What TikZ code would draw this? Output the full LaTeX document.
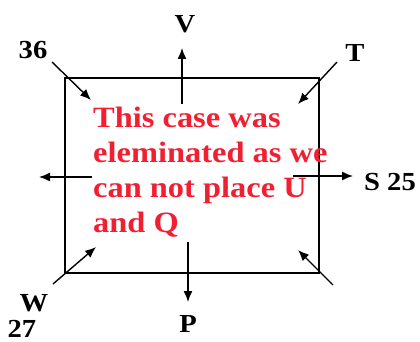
\documentclass[tikz,border=0pt]{standalone}
\usepackage{fontspec}
\usetikzlibrary{arrows.meta}
\newfontfamily\btimes[FakeStretch=1.1]{Liberation Serif}
\definecolor{casered}{RGB}{240,32,50}
\tikzset{
  lbl/.style={font=\btimes\bfseries\fontsize{26}{28}\selectfont, inner sep=0pt, text=black},
  arr/.style={line width=1.4pt, -{Latex[length=11pt,width=9pt]}},
  boxline/.style={line width=1.6pt}
}
\begin{document}
\begin{tikzpicture}[x=1pt,y=-1pt]
\useasboundingbox (0,0) rectangle (420,342);
\node[draw, boxline, minimum width=254pt, minimum height=195pt, inner sep=0pt, anchor=north west] (box) at (64,77) {};
\node[anchor=north west, inner sep=0pt, align=left, text=casered,
  font=\btimes\bfseries\fontsize{29.5}{35}\selectfont] (txt) at (93,107)
  {This case was\\eleminated as we\\can not place U\\and Q};
% labels
\node[lbl] (l36) at (33,50) {36};
\node[lbl] (lV) at (185,24) {V};
\node[lbl] (lT) at (355,53) {T};
\node[lbl] (lS) at (390,182) {S 25};
\node[lbl] (lW) at (34,303) {W};
\node[lbl] (l27) at (22,329) {27};
\node[lbl] (lP) at (188,324) {P};
% arrow end points
\coordinate (a1s) at (52,62);  \coordinate (a1e) at (91,100);
\coordinate (a2s) at (182,104); \coordinate (a2e) at (182,48);
\coordinate (a3s) at (337,62); \coordinate (a3e) at (298,104);
\coordinate (a4s) at (92,177); \coordinate (a4e) at (39,177);
\coordinate (a5s) at (293,176); \coordinate (a5e) at (353,176);
\coordinate (a6s) at (53,284); \coordinate (a6e) at (96,247);
\coordinate (a7s) at (188,242); \coordinate (a7e) at (188,302);
\coordinate (a8s) at (333,285); \coordinate (a8e) at (298,250);
\draw[arr] (a1s) -- (a1e);
\draw[arr] (a2s) -- (a2e);
\draw[arr] (a3s) -- (a3e);
\draw[arr] (a4s) -- (a4e);
\draw[arr] (a5s) -- (a5e);
\draw[arr] (a6s) -- (a6e);
\draw[arr] (a7s) -- (a7e);
\draw[arr] (a8s) -- (a8e);
\end{tikzpicture}
\end{document}
